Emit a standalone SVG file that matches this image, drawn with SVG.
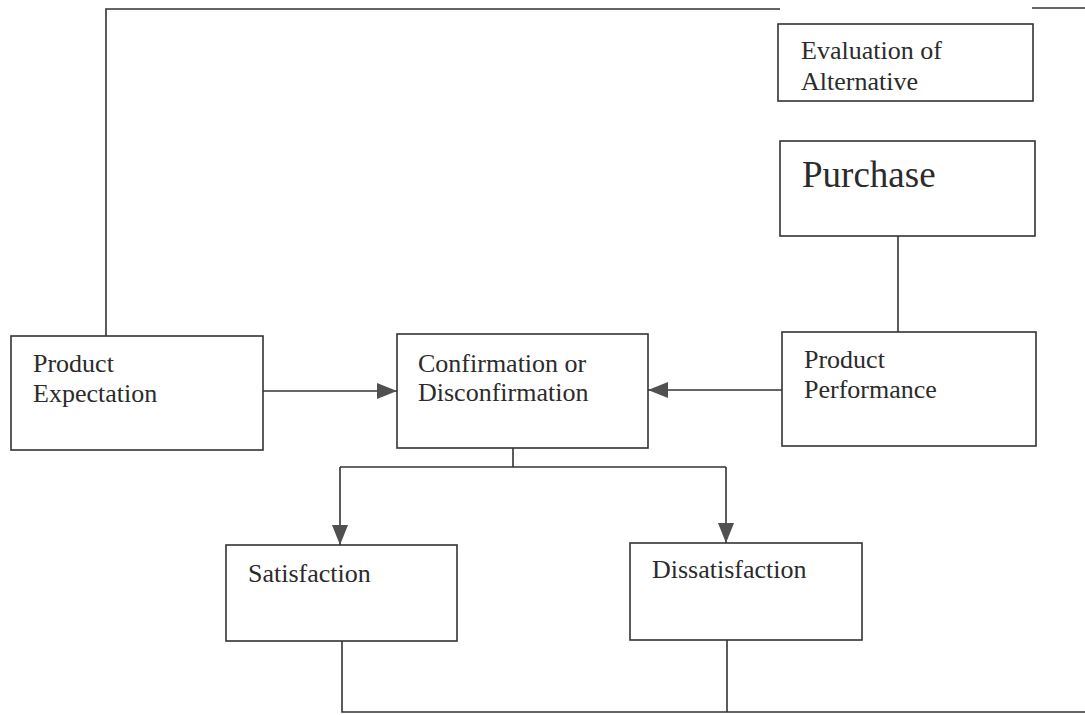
<svg xmlns="http://www.w3.org/2000/svg" width="1085" height="715" viewBox="0 0 1085 715">
<style>
.box{fill:none;stroke:#333;stroke-width:1.6}
.ln{fill:none;stroke:#333;stroke-width:1.6}
.t{font-family:"Liberation Serif","Times New Roman",serif;font-size:26px;fill:#2b2b2b}
.big{font-size:37px}
</style>
<defs>
<marker id="ah" viewBox="0 0 20 16" refX="20" refY="8" markerWidth="20" markerHeight="16" markerUnits="userSpaceOnUse" orient="auto">
<path d="M0,0 L20,8 L0,16 Z" fill="#505050"/>
</marker>
</defs>
<rect width="1085" height="715" fill="#fff"/>
<g id="connectors">
<path class="ln" d="M106,336 V9 H780"/>
<path class="ln" d="M1032,8 H1085"/>
<path class="ln" d="M898,236 V332"/>
<path class="ln" d="M263,391 H397" marker-end="url(#ah)"/>
<path class="ln" d="M782,390 H648" marker-end="url(#ah)"/>
<path class="ln" d="M513,448 V467"/>
<path class="ln" d="M340,467 H726"/>
<path class="ln" d="M340,467 V545" marker-end="url(#ah)"/>
<path class="ln" d="M726,467 V543" marker-end="url(#ah)"/>
<path class="ln" d="M342,641 V712 H1085"/>
<path class="ln" d="M727,640 V712"/>
</g>
<g id="evaluation">
<rect class="box" x="778" y="24" width="255" height="77"/>
<text class="t" x="801" y="59">Evaluation of</text>
<text class="t" x="801" y="90">Alternative</text>
</g>
<g id="purchase">
<rect class="box" x="780" y="141" width="255" height="95"/>
<text class="t big" x="802" y="187">Purchase</text>
</g>
<g id="product-expectation">
<rect class="box" x="11" y="336" width="252" height="114"/>
<text class="t" x="33" y="372">Product</text>
<text class="t" x="33" y="402">Expectation</text>
</g>
<g id="confirmation">
<rect class="box" x="397" y="334" width="251" height="114"/>
<text class="t" x="418" y="372">Confirmation or</text>
<text class="t" x="418" y="401">Disconfirmation</text>
</g>
<g id="product-performance">
<rect class="box" x="782" y="332" width="254" height="114"/>
<text class="t" x="804" y="368">Product</text>
<text class="t" x="804" y="398">Performance</text>
</g>
<g id="satisfaction">
<rect class="box" x="226" y="545" width="231" height="96"/>
<text class="t" x="248" y="582">Satisfaction</text>
</g>
<g id="dissatisfaction">
<rect class="box" x="630" y="543" width="232" height="97"/>
<text class="t" x="652" y="578">Dissatisfaction</text>
</g>
</svg>
